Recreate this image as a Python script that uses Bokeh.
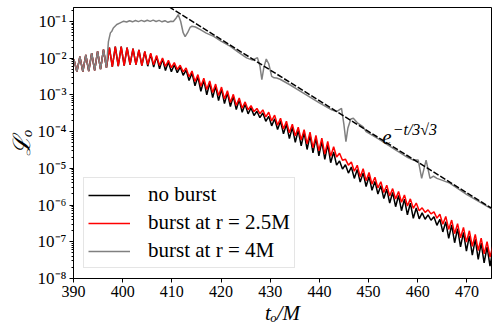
from bokeh.plotting import figure
from bokeh.models import (ColumnDataSource, FixedTicker, CustomJSTickFormatter, Label,
                          Legend, LegendItem)
from bokeh.embed import file_html
from bokeh.resources import INLINE

# ---------------- data ----------------
# times of successive maxima/minima of the oscillating signals
t_ext = [389.5, 390.1, 390.7, 391.3, 391.9, 392.5, 393.1, 393.7, 394.3, 394.9,
         395.5, 396.1, 396.7, 397.3, 397.9, 398.5, 399.1, 399.7, 400.3, 400.9,
         401.5, 402.1, 402.7, 403.3, 403.9, 404.5, 405.1, 405.7, 406.3, 406.9,
         407.5, 408.1, 408.7, 409.3, 409.9, 410.5, 411.1, 411.7, 412.3, 412.9,
         413.5, 414.1, 414.7, 415.3, 415.9, 416.5, 417.1, 417.7, 418.3, 418.9,
         419.5, 420.1, 420.7, 421.3, 421.9, 422.5, 423.1, 423.7, 424.3, 424.9,
         425.5, 426.1, 426.7, 427.3, 427.9, 428.5, 429.1, 429.7, 430.3, 430.9,
         431.5, 432.1, 432.7, 433.3, 433.9, 434.5, 435.1, 435.7, 436.3, 436.9,
         437.5, 438.1, 438.7, 439.3, 439.9, 440.5, 441.1, 441.7, 442.3, 442.9,
         443.5, 444.1, 444.7, 445.3, 445.9, 446.5, 447.1, 447.7, 448.3, 448.9,
         449.5, 450.1, 450.7, 451.3, 451.9, 452.5, 453.1, 453.7, 454.3, 454.9,
         455.5, 456.1, 456.7, 457.3, 457.9, 458.5, 459.1, 459.7, 460.3, 460.9,
         461.5, 462.1, 462.7, 463.3, 463.9, 464.5, 465.1, 465.7, 466.3, 466.9,
         467.5, 468.1, 468.7, 469.3, 469.9, 470.5, 471.1, 471.7, 472.3, 472.9,
         473.5, 474.1, 474.7, 475.3, 475.9]

no_burst = [4.25e-3, 9.0e-3, 4.25e-3, 1.09e-2, 4.3e-3, 1.22e-2, 4.4e-3, 1.36e-2, 4.6e-3, 1.52e-2,
            5.0e-3, 1.7e-2, 5.5e-3, 1.92e-2, 5.8e-3, 2.05e-2, 6.0e-3, 2.05e-2, 6.2e-3, 1.92e-2,
            6.6e-3, 1.8e-2, 6.6e-3, 1.66e-2, 6.2e-3, 1.5e-2, 6.0e-3, 1.29e-2, 5.7e-3, 1.1e-2,
            5.1e-3, 9.4e-3, 4.6e-3, 7.8e-3, 4.25e-3, 6.6e-3, 4.0e-3, 5.7e-3, 3.4e-3, 4.7e-3,
            2.46e-3, 3.9e-3, 1.76e-3, 3.1e-3, 1.25e-3, 2.5e-3, 1.0e-3, 2.1e-3, 8.4e-4, 1.73e-3,
            6.95e-4, 1.43e-3, 5.75e-4, 1.14e-3, 4.8e-4, 9.1e-4, 3.95e-4, 7.3e-4, 3.35e-4, 5.5e-4,
            3.03e-4, 4.4e-4, 2.73e-4, 3.56e-4, 2.38e-4, 3.2e-4, 1.9e-4, 2.6e-4, 1.43e-4, 2.24e-4,
            1.14e-4, 1.91e-4, 8.7e-5, 1.58e-4, 6.4e-5, 1.31e-4, 5.1e-5, 1.08e-4, 4.07e-5, 9.3e-5,
            3.25e-5, 7.9e-5, 2.64e-5, 6.6e-5, 2.18e-5, 5.4e-5, 1.75e-5, 4.5e-5, 1.42e-5, 2.77e-5,
            1.22e-5, 1.59e-5, 9.5e-6, 1.25e-5, 7.4e-6, 1.08e-5, 5.3e-6, 9.3e-6, 4.2e-6, 7.5e-6,
            3.2e-6, 6.0e-6, 2.52e-6, 4.4e-6, 2.0e-6, 3.37e-6, 1.5e-6, 2.7e-6, 1.13e-6, 2.2e-6,
            9.0e-7, 1.82e-6, 7.0e-7, 1.45e-6, 5.4e-7, 1.12e-6, 4.35e-7, 8.3e-7, 4.2e-7, 6.1e-7,
            4.1e-7, 5.4e-7, 3.85e-7, 4.8e-7, 2.8e-7, 4.1e-7, 1.85e-7, 3.5e-7, 1.24e-7, 2.86e-7,
            9.4e-8, 2.28e-7, 7.3e-8, 1.8e-7, 5.6e-8, 1.45e-7, 4.3e-8, 1.16e-7, 3.3e-8, 9.2e-8,
            2.65e-8, 7.3e-8, 2.17e-8, 6.3e-8, 1.87e-8]

burst_25 = [4.25e-3, 9.0e-3, 4.25e-3, 1.09e-2, 4.3e-3, 1.22e-2, 4.4e-3, 1.36e-2, 4.6e-3, 1.52e-2,
            5.0e-3, 1.7e-2, 5.5e-3, 1.92e-2, 5.8e-3, 2.05e-2, 6.0e-3, 2.05e-2, 6.2e-3, 1.92e-2,
            6.6e-3, 1.8e-2, 6.6e-3, 1.66e-2, 6.2e-3, 1.52e-2, 6.6e-3, 1.35e-2, 6.6e-3, 1.18e-2,
            6.3e-3, 1.01e-2, 5.9e-3, 8.7e-3, 5.5e-3, 7.5e-3, 4.9e-3, 6.4e-3, 4.2e-3, 5.4e-3,
            3.1e-3, 4.45e-3, 2.3e-3, 3.54e-3, 1.7e-3, 2.82e-3, 1.39e-3, 2.37e-3, 1.15e-3, 1.96e-3,
            9.5e-4, 1.62e-3, 7.7e-4, 1.29e-3, 6.2e-4, 1.03e-3, 5.1e-4, 8.2e-4, 4.3e-4, 6.4e-4,
            3.9e-4, 5.1e-4, 3.5e-4, 4.25e-4, 3.06e-4, 3.9e-4, 2.5e-4, 3.35e-4, 1.95e-4, 2.8e-4,
            1.49e-4, 2.3e-4, 1.17e-4, 1.91e-4, 9.3e-5, 1.58e-4, 7.6e-5, 1.31e-4, 5.9e-5, 1.12e-4,
            4.6e-5, 9.6e-5, 3.6e-5, 7.9e-5, 3.0e-5, 6.6e-5, 2.44e-5, 5.4e-5, 2.13e-5, 3.85e-5,
            2.02e-5, 2.57e-5, 1.65e-5, 1.77e-5, 1.22e-5, 1.48e-5, 8.3e-6, 1.21e-5, 5.8e-6, 9.7e-6,
            4.6e-6, 7.7e-6, 3.7e-6, 5.7e-6, 2.93e-6, 4.3e-6, 2.18e-6, 3.45e-6, 1.76e-6, 2.8e-6,
            1.46e-6, 2.34e-6, 1.19e-6, 1.87e-6, 9.4e-7, 1.47e-6, 8.1e-7, 1.13e-6, 7.0e-7, 8.4e-7,
            6.3e-7, 7.4e-7, 5.75e-7, 6.5e-7, 4.4e-7, 5.6e-7, 3.0e-7, 4.9e-7, 2.17e-7, 3.9e-7,
            1.66e-7, 3.1e-7, 1.28e-7, 2.46e-7, 9.8e-8, 1.99e-7, 7.5e-8, 1.58e-7, 5.8e-8, 1.26e-7,
            4.7e-8, 1.0e-7, 3.85e-8, 8.1e-8, 3.24e-8]

t_burst_4 = [389.5, 390.1, 390.7, 391.3, 391.9, 392.5, 393.1, 393.7, 394.3, 394.9, 395.5, 396.1, 396.7,
             397.1, 397.5, 397.8, 398.1, 398.8, 399.5, 400.2,
             400.8, 401.4, 402.0, 402.6, 403.2, 403.8, 404.4, 405.0, 405.6, 406.2, 406.8, 407.4,
             408.0, 408.6, 409.2, 409.8,
             410.3, 410.8, 411.3, 411.8, 412.3, 412.7, 413.2, 413.7, 414.1, 414.8,
             415.8, 417.0, 418.5, 420.0, 421.9, 423.5, 425.2,
             426.4, 427.4, 427.9, 428.3, 428.7, 429.2, 429.7, 430.3, 430.8, 431.3,
             432.0, 434.0, 437.0, 440.0, 442.5,
             443.5, 444.5, 445.0, 445.4, 445.8, 446.4, 446.9, 447.8, 448.9, 449.5,
             452.0, 455.0, 458.0,
             459.1, 460.1, 460.8, 461.7, 462.5, 463.2, 463.9, 464.9,
             466.5, 470.0, 475.0, 475.5]

burst_4 = [4.25e-3, 9.0e-3, 4.25e-3, 1.09e-2, 4.3e-3, 1.22e-2, 4.4e-3, 1.36e-2, 4.6e-3, 1.52e-2, 5.0e-3, 1.7e-2, 5.5e-3,
           2.8e-2, 4.85e-2, 5.4e-2, 6.6e-2, 8.2e-2, 9.1e-2, 0.101,
           0.096, 0.104, 0.097, 0.105, 0.098, 0.106, 0.099, 0.107, 0.100, 0.108, 0.099, 0.106,
           0.097, 0.104, 0.094, 0.100,
           0.099, 0.119, 0.153, 0.099, 0.049, 0.0385, 0.049, 0.068, 0.0735, 0.070,
           0.0597, 0.0479, 0.039, 0.029, 0.0209, 0.0145, 0.0101,
           8.8e-3, 1.03e-2, 6.2e-3, 2.57e-3, 5.5e-3, 9.4e-3, 7.0e-3, 3.16e-3, 2.9e-3, 2.86e-3,
           2.65e-3, 1.88e-3, 1.06e-3, 6.0e-4, 3.9e-4,
           3.5e-4, 4.3e-4, 1.51e-4, 5.3e-5, 1.25e-4, 2.2e-4, 2.3e-4, 1.69e-4, 1.34e-4, 1.0e-4,
           6.3e-5, 3.5e-5, 1.96e-5,
           1.67e-5, 1.67e-5, 5.3e-6, 1.67e-5, 5.3e-6, 6.1e-6, 5.3e-6, 4.76e-6,
           3.95e-6, 1.91e-6, 7.9e-7, 7.3e-7]

# e^{-t/3sqrt3} reference line (end points)
t_fit = [408.0, 475.0]
fit = [0.326, 8.2e-7]

x_ticks = [390, 400, 410, 420, 430, 440, 450, 460, 470]
y_ticks = [1e-8, 1e-7, 1e-6, 1e-5, 1e-4, 1e-3, 1e-2, 1e-1]
labels = ["no burst", "burst at r = 2.5M", "burst at r = 4M"]

# ---------------- figure ----------------
FONT = "Liberation Serif"

p = figure(width=499, height=336, y_axis_type="log",
           x_range=(390, 475), y_range=(1e-8, 0.238),
           output_backend="svg", toolbar_location=None,
           min_border_left=73, min_border_right=8, min_border_top=7, min_border_bottom=58)
p.grid.visible = False
p.outline_line_color = "black"
p.outline_line_width = 1
p.background_fill_color = "white"
p.border_fill_color = "white"

src_nb = ColumnDataSource(dict(t=t_ext, v=no_burst))
src_25 = ColumnDataSource(dict(t=t_ext, v=burst_25))
src_4 = ColumnDataSource(dict(t=t_burst_4, v=burst_4))

r_nb = p.line("t", "v", source=src_nb, line_color="black", line_width=1.5)
r_25 = p.line("t", "v", source=src_25, line_color="red", line_width=1.5)
r_4 = p.line("t", "v", source=src_4, line_color="gray", line_width=1.5)
p.line(t_fit, fit, line_color="black", line_width=1.5, line_dash="6 2")

# axes
minor = [k * 10.0 ** e for e in range(-8, 0) for k in range(2, 10)]
p.yaxis.ticker = FixedTicker(ticks=y_ticks, minor_ticks=minor)
p.yaxis.formatter = CustomJSTickFormatter(code="""
const sup = {'-':'\u207b','0':'\u2070','1':'\u00b9','2':'\u00b2','3':'\u00b3','4':'\u2074',
             '5':'\u2075','6':'\u2076','7':'\u2077','8':'\u2078','9':'\u2079'};
const e = Math.round(Math.log10(tick));
return '10' + String(e).split('').map(c => sup[c]).join('');
""")
p.xaxis.ticker = FixedTicker(ticks=x_ticks, minor_ticks=[])

for ax in (p.xaxis, p.yaxis):
    ax.axis_line_color = "black"
    ax.major_tick_line_color = "black"
    ax.minor_tick_line_color = "black"
    ax.major_tick_out = 4
    ax.major_tick_in = 0
    ax.minor_tick_out = 2
    ax.minor_tick_in = 0
    ax.major_label_text_font = FONT
    ax.major_label_text_font_size = "16px"
    ax.major_label_text_color = "black"
    ax.major_label_standoff = 3
    ax.axis_label_text_font = FONT
    ax.axis_label_text_font_style = "italic"
    ax.axis_label_text_color = "black"

p.yaxis.major_label_text_font_size = "17px"

p.xaxis.axis_label = "t\u2092/M"
p.xaxis.axis_label_text_font_size = "21px"
p.xaxis.axis_label_standoff = 1

p.yaxis.axis_label = "\u2112\u2092"
p.yaxis.axis_label_text_font_size = "24px"
p.yaxis.axis_label_standoff = 0

# annotation e^{-t/3sqrt3}
p.add_layout(Label(x=452.8, y=7.1e-5, text="e", text_font=FONT, text_font_style="italic",
                   text_font_size="21px", text_baseline="alphabetic", text_color="black"))
p.add_layout(Label(x=454.9, y=1.15e-4, text="\u2212t/3\u221a3", text_font=FONT,
                   text_font_style="italic", text_font_size="16px",
                   text_baseline="alphabetic", text_color="black"))

legend = Legend(items=[LegendItem(label=labels[0], renderers=[r_nb]),
                       LegendItem(label=labels[1], renderers=[r_25]),
                       LegendItem(label=labels[2], renderers=[r_4])],
                location="bottom_left")
legend.label_text_font = FONT
legend.label_text_font_size = "21px"
legend.label_text_color = "black"
legend.glyph_width = 42
legend.glyph_height = 20
legend.label_standoff = 18
legend.spacing = 3
legend.padding = 4
legend.margin = 10
legend.border_line_color = "#cccccc"
legend.border_line_width = 1
legend.background_fill_alpha = 0.8
p.add_layout(legend)

with open("out.html", "w", encoding="utf-8") as f:
    f.write(file_html(p, INLINE))
